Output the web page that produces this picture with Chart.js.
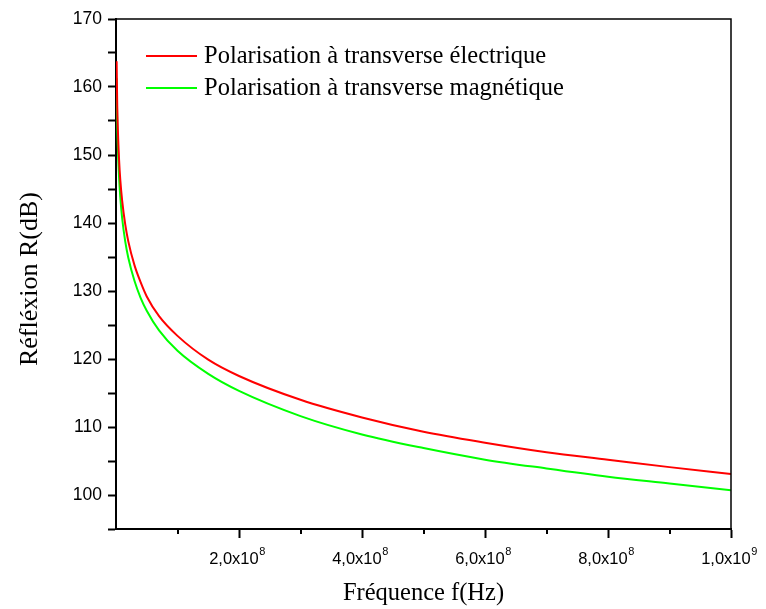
<!DOCTYPE html>
<html>
<head>
<meta charset="utf-8">
<script src="https://cdn.jsdelivr.net/npm/chart.js@4/dist/chart.umd.min.js"></script>
<style>
  html, body { margin: 0; padding: 0; background: #fff; }
  #wrap { width: 766px; height: 609px; }
</style>
</head>
<body>
<div id="wrap"><canvas id="chart" width="766" height="609"></canvas></div>
<script>
// frequency in Hz
const freq = [1e6, 2e6, 3e6, 5e6, 7e6, 1e7, 1.5e7, 2e7, 3e7, 4e7, 5e7, 7e7, 1e8, 1.5e8, 2e8, 3e8, 4e8, 5e8, 6e8, 7e8, 8e8, 9e8, 1e9];
// reflexion R (dB), transverse electric
const teValues = [163.8, 157.3, 153.8, 149.3, 146.3, 143.3, 139.8, 137.3, 133.8, 131.3, 129.2, 126.3, 123.4, 119.9, 117.5, 114.0, 111.4, 109.3, 107.7, 106.3, 105.2, 104.1, 103.1];
// reflexion R (dB), transverse magnetic
const tmValues = [161.3, 154.7, 151.2, 146.7, 143.8, 140.7, 137.3, 134.9, 131.5, 129.0, 127.1, 124.2, 121.2, 117.8, 115.3, 111.6, 108.9, 106.9, 105.2, 103.9, 102.7, 101.7, 100.7];

const seriesNames = ['Polarisation à transverse électrique', 'Polarisation à transverse magnétique'];
const xLabelTicks = [2e8, 4e8, 6e8, 8e8, 1e9];
const xLabelMant = ['2,0', '4,0', '6,0', '8,0', '1,0'];
const xLabelExp = ['8', '8', '8', '8', '9'];
const xMinorTicks = [1e8, 3e8, 5e8, 7e8, 9e8];

const SERIF = '"Liberation Serif", "Times New Roman", serif';
const SANS = '"Liberation Sans", Arial, sans-serif';

const toPoints = (ys) => freq.map((f, i) => ({ x: f, y: ys[i] }));

// box, minor x ticks, x tick labels with exponents, y title, legend
const decor = {
    id: 'decor',
    afterDraw(chart) {
        const { ctx, chartArea: a, scales: { x } } = chart;
        ctx.save();
        ctx.strokeStyle = '#000';
        ctx.lineWidth = 1.5;
        ctx.beginPath();
        ctx.moveTo(a.left, a.top);
        ctx.lineTo(a.right, a.top);
        ctx.lineTo(a.right, a.bottom);
        ctx.stroke();

        ctx.lineWidth = 2;
        xMinorTicks.forEach(v => {
            const px = Math.round(x.getPixelForValue(v));
            ctx.beginPath();
            ctx.moveTo(px, a.bottom);
            ctx.lineTo(px, a.bottom + 5);
            ctx.stroke();
        });

        // x tick labels like 2,0x10^8
        ctx.fillStyle = '#000';
        ctx.textBaseline = 'alphabetic';
        xLabelTicks.forEach((v, i) => {
            const px = x.getPixelForValue(v);
            const main = xLabelMant[i] + 'x10';
            ctx.font = `16.5px ${SANS}`;
            const w1 = ctx.measureText(main).width;
            ctx.font = `11px ${SANS}`;
            const w2 = ctx.measureText(xLabelExp[i]).width;
            const left = px - (w1 + w2) / 2 - 2;
            ctx.font = `16.5px ${SANS}`;
            ctx.textAlign = 'left';
            ctx.fillText(main, left, a.bottom + 35);
            ctx.font = `11px ${SANS}`;
            ctx.fillText(xLabelExp[i], left + w1 + 0.5, a.bottom + 26);
        });

        // y title
        ctx.save();
        ctx.translate(30, 279);
        ctx.rotate(-Math.PI / 2);
        ctx.font = `26px ${SERIF}`;
        ctx.textAlign = 'center';
        ctx.textBaseline = 'middle';
        ctx.fillText('Réfléxion R(dB)', 0, 0);
        ctx.restore();

        // legend
        const colors = ['#ff0000', '#00ff00'];
        const rows = [56, 88];
        ctx.font = `24.5px ${SERIF}`;
        ctx.textAlign = 'left';
        ctx.textBaseline = 'middle';
        rows.forEach((y, i) => {
            ctx.strokeStyle = colors[i];
            ctx.lineWidth = 2;
            ctx.beginPath();
            ctx.moveTo(146, y);
            ctx.lineTo(197, y);
            ctx.stroke();
            ctx.fillText(seriesNames[i], 204, y + 1);
        });
        ctx.restore();
    }
};

new Chart(document.getElementById('chart'), {
    type: 'line',
    data: {
        datasets: [
            { label: seriesNames[0], data: toPoints(teValues), borderColor: '#ff0000', borderWidth: 2, pointRadius: 0, cubicInterpolationMode: 'monotone', fill: false },
            { label: seriesNames[1], data: toPoints(tmValues), borderColor: '#00ff00', borderWidth: 2, pointRadius: 0, cubicInterpolationMode: 'monotone', fill: false }
        ]
    },
    options: {
        responsive: false,
        animation: false,
        devicePixelRatio: 1,
        layout: { padding: { top: 19, right: 35, left: 0, bottom: 0 } },
        plugins: { legend: { display: false }, tooltip: { enabled: false } },
        scales: {
            x: {
                type: 'linear',
                min: 0,
                max: 1e9,
                afterFit: (s) => { s.height = 80; },
                border: { color: '#000', width: 2 },
                grid: {
                    drawOnChartArea: false, drawTicks: true, tickLength: 9, tickWidth: 2,
                    tickColor: (c) => (c.tick && c.tick.value % 2e8 === 0 && c.tick.value > 0 ? '#000' : 'rgba(0,0,0,0)')
                },
                ticks: { stepSize: 1e8, display: false },
                title: { display: true, text: 'Fréquence f(Hz)', color: '#000', font: { family: SERIF, size: 24.5 }, padding: { top: 0, bottom: 1 } }
            },
            y: {
                min: 95,
                max: 170,
                afterFit: (s) => { s.width = 116; },
                border: { color: '#000', width: 2 },
                grid: { drawOnChartArea: false, drawTicks: true, tickLength: 8, tickColor: '#000', tickWidth: 2 },
                ticks: {
                    stepSize: 5,
                    padding: 6,
                    color: '#000',
                    font: { family: SANS, size: 17.5 },
                    callback: (v) => (v % 10 === 0 ? String(v) : '')
                },
                title: { display: false }
            }
        }
    },
    plugins: [decor]
});
</script>
</body>
</html>
